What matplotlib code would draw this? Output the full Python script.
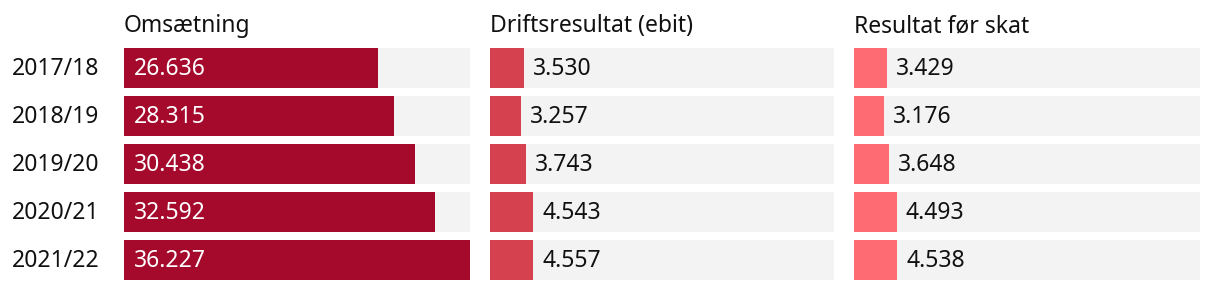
import matplotlib.pyplot as plt

years = ['2017/18', '2018/19', '2019/20', '2020/21', '2021/22']
titles = ['Omsætning', 'Driftsresultat (ebit)', 'Resultat før skat']
omsaetning = [26.636, 28.315, 30.438, 32.592, 36.227]
ebit = [3.530, 3.257, 3.743, 4.543, 4.557]
foer_skat = [3.429, 3.176, 3.648, 4.493, 4.538]
series = [omsaetning, ebit, foer_skat]
colors = ['#a50a2d', '#d5414f', '#ff6b72']

plt.rcParams['font.family'] = ['Noto Sans', 'DejaVu Sans']
W, H = 1220, 290
fig = plt.figure(figsize=(W / 100, H / 100), dpi=100)

xmax = max(omsaetning)
# panel left/right edges in pixels
panels = [(124, 470), (490, 834), (854, 1200)]
top, bottom = 48, 280
fs = 16.5

def fmt(v):
    return f'{v:.3f}'

for i, (x0, x1) in enumerate(panels):
    ax = fig.add_axes([x0 / W, 1 - bottom / H, (x1 - x0) / W, (bottom - top) / H])
    ypos = range(len(years))
    h = 40 / 48
    ax.barh(ypos, [xmax] * len(years), height=h, color='#f3f3f3')
    ax.barh(ypos, series[i], height=h, color=colors[i])
    ax.set_xlim(0, xmax)
    ax.set_ylim(len(years) - 1 + h / 2, -h / 2)
    ax.axis('off')
    for y, v in zip(ypos, series[i]):
        if i == 0:
            ax.annotate(fmt(v), (0, y), xytext=(10, -1), textcoords='offset pixels',
                        va='center', ha='left', color='white', fontsize=fs)
        else:
            ax.annotate(fmt(v), (v, y), xytext=(9, -1), textcoords='offset pixels',
                        va='center', ha='left', color='#111111', fontsize=fs)
    fig.text(x0 / W, 1 - 32 / H, titles[i], ha='left', va='baseline',
             fontsize=fs, color='#111111')

for j, yr in enumerate(years):
    yc = top + 20 + 48 * j + 1
    fig.text(12 / W, 1 - yc / H, yr, ha='left', va='center', fontsize=fs, color='#111111')

fig.savefig('out.png', dpi=100)
